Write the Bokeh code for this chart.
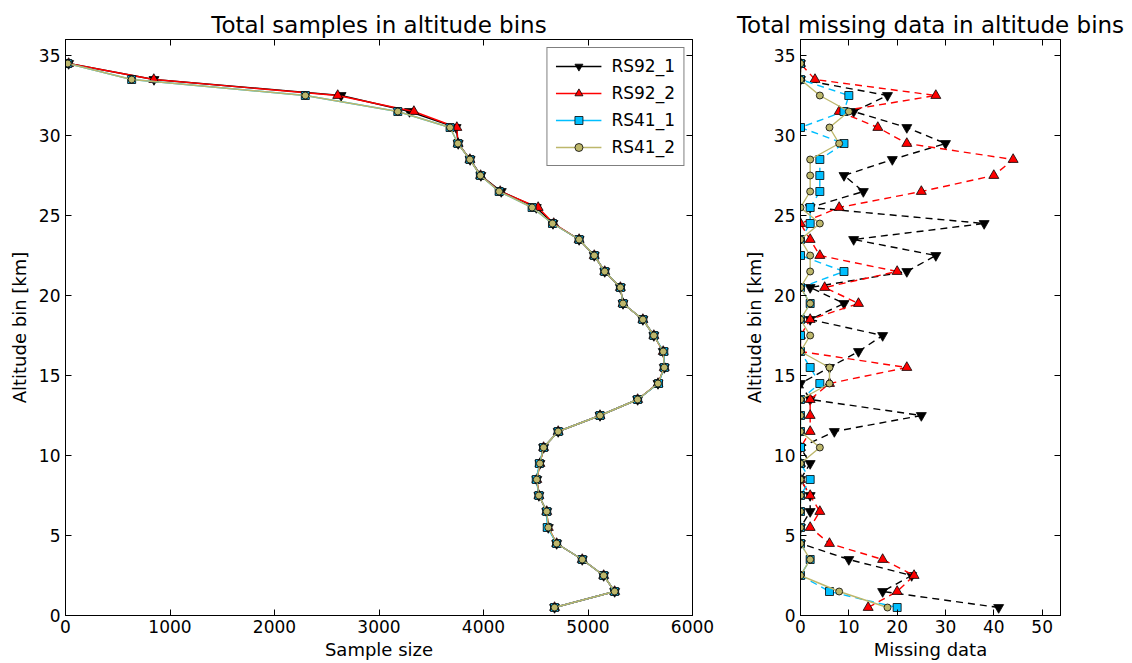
from bokeh.plotting import figure
from bokeh.models import Range1d, LinearAxis, Legend, LegendItem
from bokeh.layouts import row
from bokeh.embed import file_html
from bokeh.resources import INLINE

FONT = "DejaVu Sans"

# ---------------- data ----------------
altitude_bins = [0.5, 1.5, 2.5, 3.5, 4.5, 5.5, 6.5, 7.5, 8.5, 9.5,
                 10.5, 11.5, 12.5, 13.5, 14.5, 15.5, 16.5, 17.5, 18.5, 19.5,
                 20.5, 21.5, 22.5, 23.5, 24.5, 25.5, 26.5, 27.5, 28.5, 29.5,
                 30.5, 31.5, 32.5, 33.5, 34.5]

# total samples per altitude bin
samples_rs92_1 = [4680, 5255, 5150, 4945, 4700, 4620, 4605, 4530, 4510, 4540,
                  4575, 4715, 5115, 5475, 5670, 5730, 5720, 5630, 5525, 5335,
                  5310, 5160, 5060, 4915, 4665, 4505, 4170, 3975, 3872, 3758,
                  3738, 3292, 2637, 847, 30]
samples_rs92_2 = [4680, 5255, 5150, 4945, 4700, 4620, 4605, 4530, 4510, 4540,
                  4575, 4715, 5115, 5475, 5670, 5730, 5720, 5630, 5525, 5335,
                  5310, 5160, 5060, 4915, 4672, 4523, 4160, 3972, 3870, 3757,
                  3745, 3334, 2605, 845, 30]
samples_rs41_1 = [4680, 5255, 5150, 4945, 4700, 4610, 4605, 4530, 4505, 4535,
                  4575, 4715, 5115, 5475, 5675, 5730, 5725, 5630, 5525, 5335,
                  5310, 5160, 5060, 4915, 4660, 4465, 4150, 3970, 3870, 3755,
                  3680, 3180, 2295, 633, 22]
samples_rs41_2 = [4680, 5255, 5150, 4945, 4700, 4620, 4605, 4530, 4510, 4540,
                  4575, 4715, 5115, 5475, 5670, 5730, 5720, 5630, 5525, 5335,
                  5310, 5160, 5060, 4915, 4660, 4465, 4150, 3970, 3870, 3755,
                  3680, 3180, 2295, 633, 22]

# missing data per altitude bin
missing_rs92_1 = [41, 17, 23, 10, 0, 0, 2, 2, 0, 2,
                  0, 7, 25, 2, 0, 6, 12, 17, 2, 9,
                  2, 22, 28, 11, 38, 2, 13, 9, 19, 30,
                  22, 11, 18, 0, 0]
missing_rs92_2 = [14, 20, 23.5, 17, 6, 2, 4, 2, 0, 0,
                  0, 2, 2, 2, 6, 22, 0, 0, 2, 12,
                  5, 20, 4, 2, 0, 8, 25, 40, 44, 22,
                  16, 8, 28, 3, 0]
missing_rs41_1 = [20, 6, 0, 2, 0, 0, 0, 0, 2, 0,
                  0, 0, 0, 0, 4, 2, 0, 0, 0, 2,
                  0, 9, 0, 0, 2, 2, 4, 4, 4, 9,
                  0, 9, 10, 0, 0]
missing_rs41_2 = [18, 8, 0, 2, 0, 0, 0, 0, 0, 0,
                  4, 0, 0, 0, 6, 6, 0, 2, 0, 2,
                  0, 2, 2, 0, 4, 0, 2, 2, 2, 8,
                  6, 10, 4, 0, 0]

series_names = ["RS92_1", "RS92_2", "RS41_1", "RS41_2"]
sample_ticks = [0, 1000, 2000, 3000, 4000, 5000, 6000]
missing_ticks = [0, 10, 20, 30, 40, 50]
altitude_ticks = [0, 5, 10, 15, 20, 25, 30, 35]

# ---------------- styles ----------------
line_colors = ["black", "red", "deepskyblue", "darkkhaki"]
fill_colors = ["black", "red", "deepskyblue", "darkkhaki"]
markers = ["inverted_triangle", "triangle", "square", "circle"]
marker_sizes = [10, 10, 8, 7]


def style_axis(ax, ticks, labels=True):
    ax.ticker = ticks
    ax.major_tick_in = 6
    ax.major_tick_out = 0
    ax.major_tick_line_color = "black"
    ax.minor_tick_line_color = None
    ax.axis_line_color = "black"
    ax.major_label_text_font = FONT
    ax.major_label_text_color = "black"
    if labels:
        ax.major_label_text_font_size = "17px"
        ax.major_label_standoff = 5
    else:
        ax.major_label_text_font_size = "0px"
        ax.major_label_text_alpha = 0
        ax.major_label_standoff = 0
    ax.axis_label_text_font = FONT
    ax.axis_label_text_font_size = "18px"
    ax.axis_label_text_font_style = "normal"
    ax.axis_label_text_color = "black"


def make_fig(frame_w, title, xmax, xlabel, xticks, border_right):
    p = figure(frame_width=frame_w, frame_height=576,
               x_range=Range1d(0, xmax), y_range=Range1d(0, 36),
               output_backend="svg", toolbar_location=None, tools="",
               min_border_left=65, min_border_right=border_right,
               min_border_top=39, min_border_bottom=48,
               x_axis_label=xlabel, y_axis_label="Altitude bin [km]",
               background_fill_color="white", border_fill_color="white")
    p.title.text = title
    p.title.align = "center"
    p.title.text_font = FONT
    p.title.text_font_size = "23px"
    p.title.text_font_style = "normal"
    p.title.text_color = "black"
    p.title.standoff = 3
    p.grid.visible = False
    p.outline_line_color = "black"
    p.outline_line_width = 1
    style_axis(p.xaxis[0], xticks)
    p.xaxis[0].major_label_standoff = 4
    p.xaxis[0].axis_label_standoff = 3
    style_axis(p.yaxis[0], altitude_ticks)
    p.yaxis[0].axis_label_standoff = 6
    top = LinearAxis()
    right = LinearAxis()
    p.add_layout(top, "above")
    p.add_layout(right, "right")
    style_axis(top, xticks, labels=False)
    style_axis(right, altitude_ticks, labels=False)
    return p


# ---------------- left panel ----------------
p1 = make_fig(627, "Total samples in altitude bins", 6000, "Sample size", sample_ticks, 43)
sample_series = [samples_rs92_1, samples_rs92_2, samples_rs41_1, samples_rs41_2]
items = []
for i, vals in enumerate(sample_series):
    ln = p1.line(vals, altitude_bins, line_color=line_colors[i], line_width=1.4)
    sc = p1.scatter(vals, altitude_bins, marker=markers[i], size=marker_sizes[i],
                    fill_color=fill_colors[i], line_color="black", line_width=0.8)
    items.append(LegendItem(label=series_names[i], renderers=[ln, sc]))

legend = Legend(items=items, location="top_right")
legend.border_line_color = "black"
legend.border_line_width = 1
legend.background_fill_color = "white"
legend.background_fill_alpha = 1
legend.label_text_font = FONT
legend.label_text_font_size = "17px"
legend.label_text_color = "black"
legend.glyph_width = 46
legend.glyph_height = 20
legend.label_standoff = 10
legend.spacing = 7
legend.padding = 8
legend.margin = 8
p1.add_layout(legend)

# ---------------- right panel ----------------
p2 = make_fig(260, "Total missing data in altitude bins", 53.8, "Missing data", missing_ticks, 64)
missing_series = [missing_rs92_1, missing_rs92_2, missing_rs41_1, missing_rs41_2]
dashes = ["7 5", "7 5", "7 5", "solid"]
for i, vals in enumerate(missing_series):
    p2.line(vals, altitude_bins, line_color=line_colors[i], line_width=1.4, line_dash=dashes[i])
    p2.scatter(vals, altitude_bins, marker=markers[i], size=marker_sizes[i],
               fill_color=fill_colors[i], line_color="black", line_width=0.8)

layout = row(p1, p2)
open("out.html", "w").write(file_html(layout, INLINE))
